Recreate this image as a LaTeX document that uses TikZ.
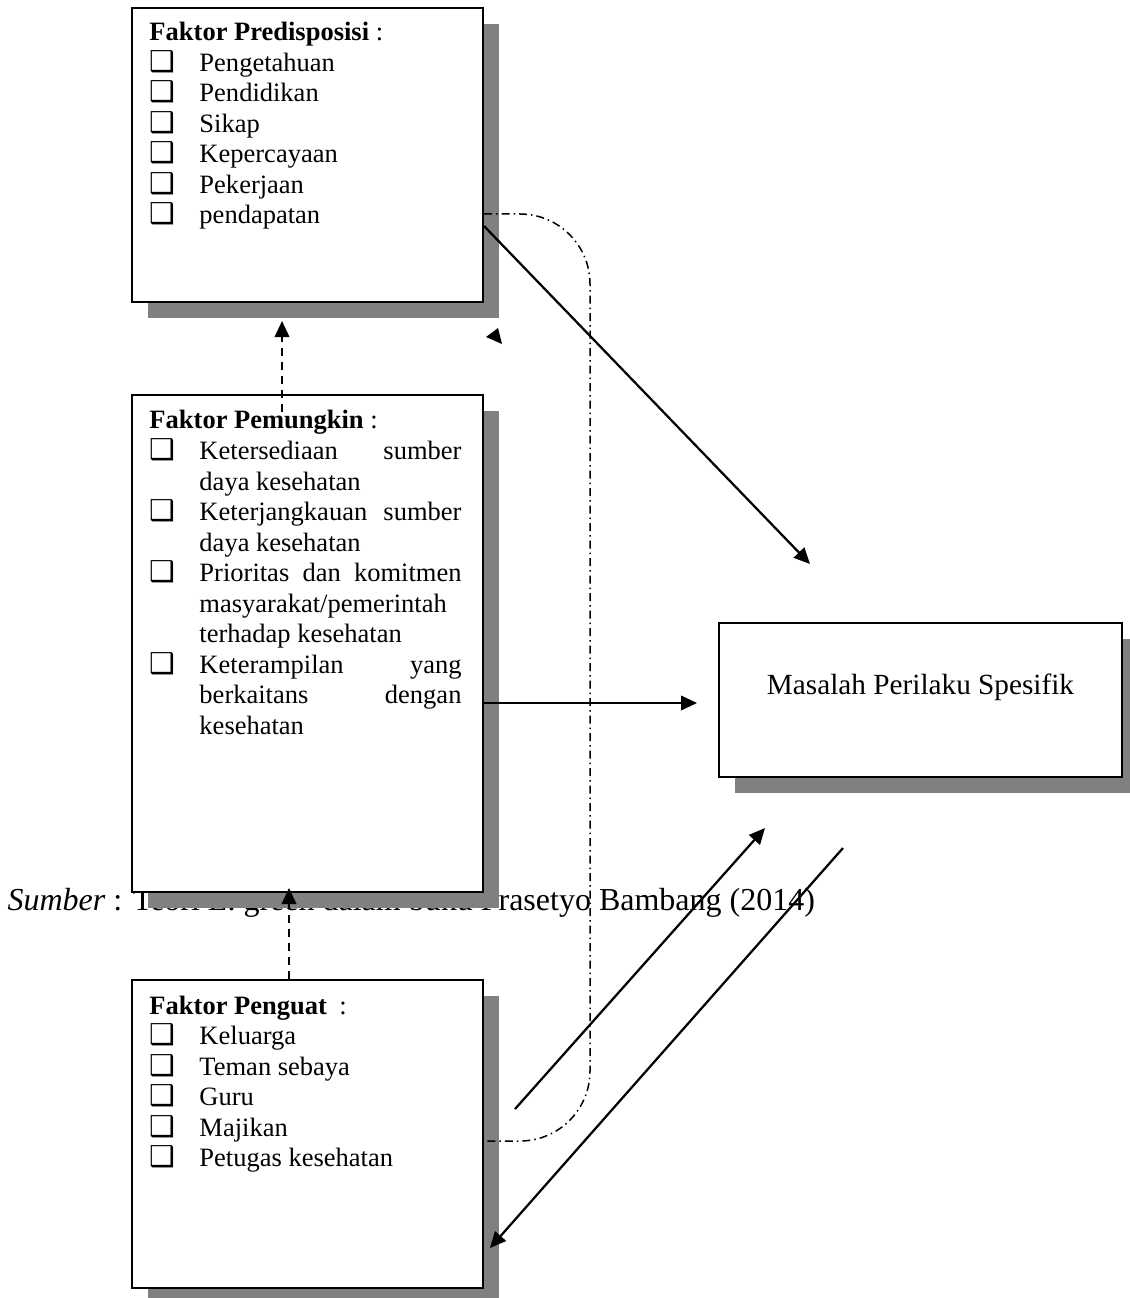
\documentclass[tikz,border=0pt]{standalone}
\usepackage{fontspec}
\setmainfont{Liberation Serif}
\newfontfamily\dingfont{DejaVu Sans}
\usepackage{tikz}
\usetikzlibrary{arrows.meta,shadows}

\newcommand{\qbx}{{\dingfont\fontsize{11.5}{12}\selectfont\char"2751}}
\newcommand{\itm}[1]{\makebox[20pt][l]{\qbx}#1}
\newcommand{\ind}{\hspace*{20pt}}
\newcommand{\jl}[1]{\makebox[104.8pt][s]{#1}}

\begin{document}
\begin{tikzpicture}[x=0.4pt, y=-0.4pt,
  kotak/.style={draw, line width=0.8pt, fill=white, inner sep=0pt,
    drop shadow={shadow xshift=6.4pt, shadow yshift=-6.4pt, fill=gray, opacity=1}},
  isi/.style={anchor=base west, inner sep=0pt, font=\fontsize{10.6}{12.2}\selectfont},
  panah/.style={line width=0.9pt, -{Triangle[length=6.4pt,width=5.8pt]}},
  putus/.style={panah, dash pattern=on 3.2pt off 2.4pt},
  titik/.style={line width=0.6pt, dash pattern=on 3.2pt off 1.6pt on 0.6pt off 1.6pt,
    rounded corners=28pt}]
  \useasboundingbox (0,0) rectangle (1129,1298);

  % sumber sits behind the boxes
  \node[anchor=base west, inner sep=0pt, font=\fontsize{12.8}{15}\selectfont] (sumber)
    at (7,910) {\textit{Sumber} : Teori L. green dalam buku Prasetyo Bambang (2014)};

  \node[kotak, minimum width=140.4pt, minimum height=117.6pt] (pre) at (307.5,155) {};
  \node[kotak, minimum width=140.4pt, minimum height=198.8pt] (pem) at (307.5,643.5) {};
  \node[kotak, minimum width=140.4pt, minimum height=123.2pt] (pen) at (307.5,1134) {};
  \node[kotak, minimum width=161.2pt, minimum height=61.6pt,
    font=\fontsize{11.7}{14}\selectfont, text height=8pt, text depth=12.8pt]
    (mas) at (920.5,700) {Masalah Perilaku Spesifik};

  \node[isi] (pretxt) at ([xshift=7.2pt, yshift=-13.6pt]pre.north west) {\parbox[t]{124.8pt}{%
    \textbf{Faktor Predisposisi} :\\
    \itm{Pengetahuan}\\
    \itm{Pendidikan}\\
    \itm{Sikap}\\
    \itm{Kepercayaan}\\
    \itm{Pekerjaan}\\
    \itm{pendapatan}}};

  \node[isi] (pemtxt) at ([xshift=7.2pt, yshift=-14pt]pem.north west) {\parbox[t]{124.8pt}{%
    \textbf{Faktor Pemungkin} :\\
    \itm{\jl{Ketersediaan sumber}}\\
    \ind daya kesehatan\\
    \itm{\jl{Keterjangkauan sumber}}\\
    \ind daya kesehatan\\
    \itm{\jl{Prioritas dan komitmen}}\\
    \ind masyarakat/pemerintah\\
    \ind terhadap kesehatan\\
    \itm{\jl{Keterampilan yang}}\\
    \ind\jl{berkaitans dengan}\\
    \ind kesehatan}};

  \node[isi] (pentxt) at ([xshift=7.2pt, yshift=-14pt]pen.north west) {\parbox[t]{124.8pt}{%
    \textbf{Faktor Penguat}\hspace{5pt}:\\
    \itm{Keluarga}\\
    \itm{Teman sebaya}\\
    \itm{Guru}\\
    \itm{Majikan}\\
    \itm{Petugas kesehatan}}};

  % dashed arrows up the left column
  \draw[putus] ([xshift=-10.2pt, yshift=-7.2pt]pem.north) -- ([xshift=-10.2pt, yshift=-7.2pt]pre.south);
  \draw[putus] ([xshift=-7.4pt]pen.north) -- ([xshift=-7.4pt, yshift=2pt]pem.south);

  % dash-dot link
  \coordinate (belok) at (590,700);
  \draw[titik] ([yshift=-23.6pt]pre.east) -| (belok) |- ([yshift=-2.8pt]pen.east);
  \fill ([xshift=0.8pt, yshift=-13.6pt]pre.south east) -- ([xshift=5.6pt, yshift=-10pt]pre.south east)
    -- ([xshift=7.2pt, yshift=-16.4pt]pre.south east) -- cycle;

  % solid arrows
  \draw[panah] ([yshift=-28.4pt]pre.east) -- ([xshift=-44.2pt, yshift=23.2pt]mas.north);
  \coordinate (m1) at ([xshift=-8.4pt]mas.west);
  \draw[panah] ([yshift=-23.8pt]pem.east) coordinate (p2) -- (p2 -| m1);
  \draw[panah] ([xshift=12.4pt, yshift=10pt]pen.east) -- ([xshift=-62.2pt, yshift=-20pt]mas.south);
  \draw[panah] ([xshift=-31pt, yshift=-28pt]mas.south) -- ([xshift=2.4pt, yshift=-45.6pt]pen.east);
\end{tikzpicture}
\end{document}
